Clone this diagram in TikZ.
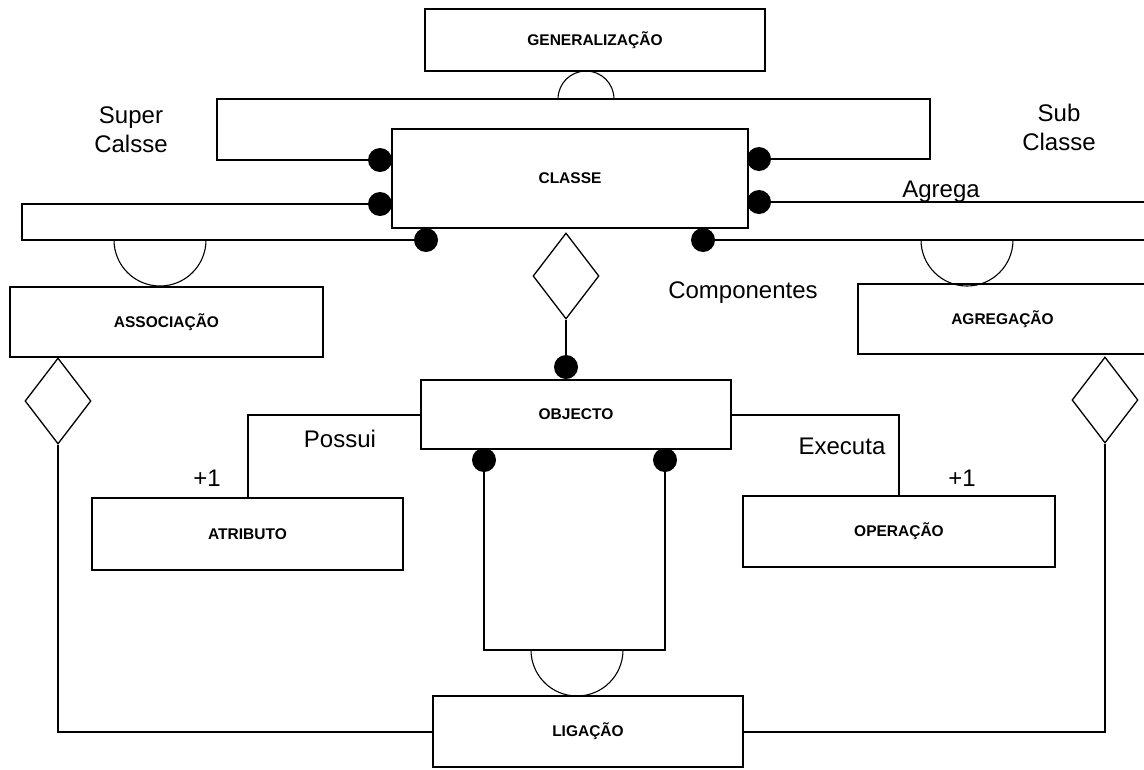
\documentclass[tikz,border=0pt]{standalone}
\usepackage{fontspec}
\setmainfont{Liberation Sans}
\usetikzlibrary{shapes.geometric}

\tikzset{
  box/.style={draw, line width=1.8pt, rectangle, inner sep=0pt,
              font=\fontsize{15.5}{19}\selectfont\bfseries},
  link/.style={line width=2pt},
  halfring/.style={line width=1.1pt},
  rhomb/.style={draw, diamond, line width=1.3pt, inner sep=0pt,
                minimum width=66pt, minimum height=86pt, aspect=0.77},
  joint/.style={circle, fill=black, inner sep=0pt, minimum size=24pt},
  lbl/.style={inner sep=0pt, font=\fontsize{24}{29}\selectfont},
}

\begin{document}
\begin{tikzpicture}[x=1pt, y=-1pt]
\useasboundingbox (0,0) rectangle (1144,769);

% boxes
\node[box, minimum width=340pt, minimum height=62pt] (gen)    at (595,40)      {GENERALIZAÇÃO};
\node[box, minimum width=356pt, minimum height=99pt] (classe) at (570,178.5)   {CLASSE};
\node[box, minimum width=313pt, minimum height=70pt] (assoc)  at (166.5,322)   {ASSOCIAÇÃO};
\node[box, minimum width=289pt, minimum height=70pt] (agreg)  at (1002.5,319)  {AGREGAÇÃO};
\node[box, minimum width=310pt, minimum height=69pt] (obj)    at (576,414.5)   {OBJECTO};
\node[box, minimum width=311pt, minimum height=72pt] (atrib)  at (247.5,534)   {ATRIBUTO};
\node[box, minimum width=312pt, minimum height=71pt] (oper)   at (899,531.5)   {OPERAÇÃO};
\node[box, minimum width=310pt, minimum height=71pt] (lig)    at (588,731.5)   {LIGAÇÃO};

% diamonds
\node[rhomb] (adia) at (58,401)   {};
\node[rhomb] (cdia) at (566,276)  {};
\node[rhomb] (gdia) at (1105,400) {};

% joints around CLASSE and OBJECTO
\node[joint] (jL1) at (380,160) {};
\node[joint] (jL2) at (380,204) {};
\node[joint] (jR1) at (759,159) {};
\node[joint] (jR2) at (759,202) {};
\node[joint] (jB1) at (426,240) {};
\node[joint] (jB2) at (703,240) {};
\node[joint] (jT)  at (566,367) {};
\node[joint] (jO1) at (484,460) {};
\node[joint] (jO2) at (665,460) {};

% corner points
\coordinate (genL) at (217,99);
\coordinate (genR) at (930,99);
\coordinate (genC) at (586,99);
\coordinate (asTL) at (22,204);
\coordinate (asBL) at (22,240);
\coordinate (asC)  at (160,240);
\coordinate (agT)  at (1150,202);
\coordinate (agB)  at (1150,240);
\coordinate (agC)  at (967,240);
\coordinate (lpL)  at (484,650);
\coordinate (lpR)  at (665,650);
\coordinate (lpC)  at (577,650);

% generalization bracket
\draw[link] (jL1) -| (genL) -- (genR) |- (jR1);
\draw[halfring] ([xshift=-28pt]genC) arc[start angle=180, end angle=360, radius=28];

% association bar
\draw[link] (jL2) -- (asTL) -- (asBL) -- (jB1);
\draw[halfring] ([xshift=-46pt]asC) arc[start angle=180, end angle=0, radius=46];

% aggregation bar
\draw[link] (jR2) -- (agT);
\draw[link] (jB2) -- (agB);
\draw[halfring] ([xshift=-46pt]agC) arc[start angle=180, end angle=0, radius=46];

% CLASSE to OBJECTO
\draw[link] (cdia.south) -- (jT);

% OBJECTO loop to LIGAÇÃO
\draw[link] (jO1) -- (lpL) -- (lpR) -- (jO2);
\draw[halfring] ([xshift=-46pt]lpC) arc[start angle=180, end angle=0, radius=46];

% attribute and operation links
\draw[link] (obj.west) -| (atrib.north);
\draw[link] (obj.east) -| (oper.north);

% links to LIGAÇÃO
\draw[link] (adia.south) |- (lig.west);
\draw[link] (gdia.south) |- (lig.east);

% labels
\node[lbl, align=center] (lsuper) at (131,130) {Super\\Calsse};
\node[lbl, align=center] (lsub)   at (1059,127.5) {Sub\\Classe};
\node[lbl, anchor=base] (lagrega) at (941,197) {Agrega};
\node[lbl, anchor=base] (lcomp)   at (743,298) {Componentes};
\node[lbl, anchor=base] (lposs)   at (340,447) {Possui};
\node[lbl, anchor=base] (lexec)   at (842,454) {Executa};
\node[lbl, anchor=base] (lone1)   at (207,486) {+1};
\node[lbl, anchor=base] (lone2)   at (962,486) {+1};
\end{tikzpicture}
\end{document}
